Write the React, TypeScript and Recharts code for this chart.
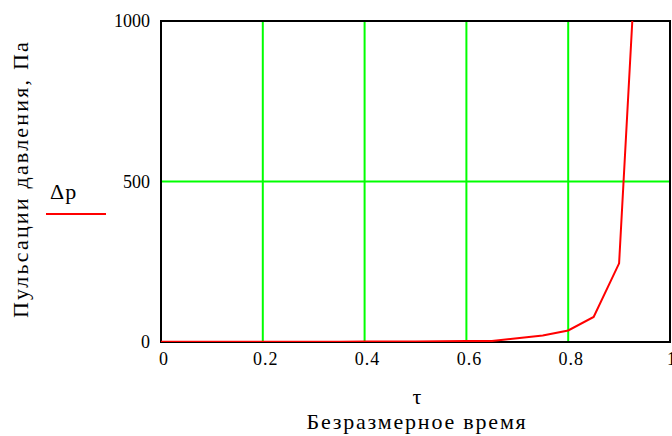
import { LineChart, Line, XAxis, YAxis, CartesianGrid, ReferenceArea } from "recharts";

// τ (dimensionless time) and pressure pulsation Δp, Pa
const tau = [0, 0.05, 0.1, 0.15, 0.2, 0.25, 0.3, 0.35, 0.4, 0.45, 0.5, 0.55, 0.6, 0.65, 0.7, 0.75, 0.8, 0.85, 0.9, 0.95];
const deltaP = [0.5, 0.5, 0.6, 0.7, 0.8, 0.9, 1, 1.1, 1.3, 1.5, 1.8, 2.2, 2.8, 3, 12, 20, 36, 78, 245, 1700];

const xTicks = [0, 0.2, 0.4, 0.6, 0.8, 1];
const yTicks = [0, 500, 1000];

const data = tau.map((t, i) => ({ t, dp: deltaP[i] }));

const serif = "'Liberation Serif', 'Times New Roman', serif";

const App = () => {
  return (
    <div
      style={{
        position: "fixed",
        left: 0,
        top: 0,
        width: 672,
        height: 436,
        background: "#fff",
        overflow: "hidden",
        fontFamily: serif,
      }}
    >
      <LineChart width={674} height={436} data={data} margin={{ top: 21, right: 4, left: 0, bottom: 64 }}>
        <CartesianGrid
          stroke="#00ff00"
          strokeWidth={2}
          horizontalValues={[500, 1000]}
          verticalValues={[0.2, 0.4, 0.6, 0.8]}
        />
        <XAxis
          dataKey="t"
          type="number"
          domain={[0, 1]}
          ticks={xTicks}
          height={30}
          tickLine={false}
          tickSize={0}
          tickMargin={10}
          axisLine={false}
          tick={{ fill: "#000", fontSize: 18, fontFamily: serif, dx: 3, letterSpacing: 1 }}
        />
        <YAxis
          type="number"
          domain={[0, 1000]}
          allowDataOverflow
          ticks={yTicks}
          width={161}
          tickLine={false}
          tickSize={0}
          tickMargin={11}
          axisLine={false}
          tick={{ fill: "#000", fontSize: 18, fontFamily: serif }}
        />
        <ReferenceArea x1={0} x2={1} y1={0} y2={1000} fill="none" stroke="#000" strokeWidth={2} ifOverflow="visible" />
        <Line
          type="linear"
          dataKey="dp"
          stroke="#ff0000"
          strokeWidth={2}
          dot={false}
          isAnimationActive={false}
        />
      </LineChart>

      <div
        style={{
          position: "absolute",
          left: 21,
          top: 179,
          transform: "translate(-50%, -50%) rotate(-90deg)",
          whiteSpace: "nowrap",
          fontSize: 22,
          letterSpacing: 2.2,
          lineHeight: 1,
        }}
      >
        Пульсации давления, Па
      </div>

      <div style={{ position: "absolute", left: 50, top: 181, fontSize: 22, letterSpacing: 1, lineHeight: 1 }}>Δp</div>
      <div style={{ position: "absolute", left: 46, top: 213, width: 60, height: 2, background: "#ff0000" }} />

      <div
        style={{
          position: "absolute",
          left: 417,
          top: 386,
          transform: "translateX(-50%)",
          fontSize: 22,
          lineHeight: "22px",
          height: 22,
        }}
      >
        τ
      </div>
      <div
        style={{
          position: "absolute",
          left: 417,
          top: 411,
          transform: "translateX(-50%)",
          whiteSpace: "nowrap",
          fontSize: 22,
          letterSpacing: 1.8,
          lineHeight: "22px",
        }}
      >
        Безразмерное время
      </div>
    </div>
  );
};

export default App;
